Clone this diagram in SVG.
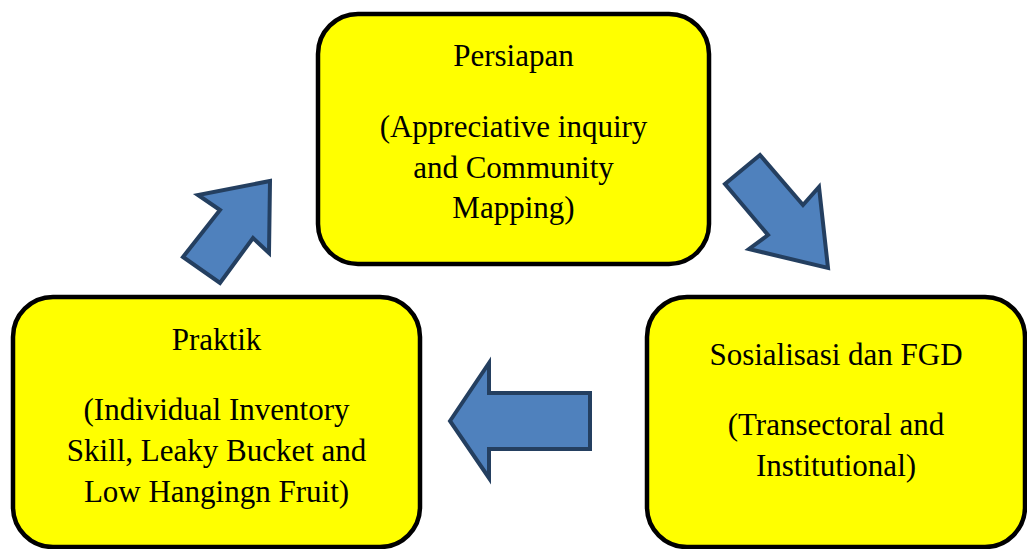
<svg xmlns="http://www.w3.org/2000/svg" width="1027" height="549" viewBox="0 0 1027 549">
<style>
.box{fill:#ffff00;stroke:#000;stroke-width:4.5}
.arr{fill:#4f81bd;stroke:#243f60;stroke-width:4;stroke-linejoin:miter}
.t{font-family:"Liberation Serif","Times New Roman",serif;font-size:31px;fill:#000;text-anchor:middle}
</style>
<rect width="1027" height="549" fill="#fff"/>
<g id="persiapan">
<rect class="box" x="318" y="14" width="391" height="250" rx="40"/>
<text class="t" x="513.5" y="66">Persiapan</text>
<text class="t" x="513.5" y="137">(Appreciative inquiry</text>
<text class="t" x="513.5" y="178">and Community</text>
<text class="t" x="513.5" y="218">Mapping)</text>
</g>
<g id="praktik">
<rect class="box" x="13" y="297" width="407" height="250" rx="40"/>
<text class="t" x="216.5" y="350">Praktik</text>
<text class="t" x="216.5" y="420">(Individual Inventory</text>
<text class="t" x="216.5" y="461">Skill, Leaky Bucket and</text>
<text class="t" x="216.5" y="502">Low Hangingn Fruit)</text>
</g>
<g id="sosialisasi">
<rect class="box" x="647" y="297" width="378" height="250" rx="40"/>
<text class="t" x="836" y="365">Sosialisasi dan FGD</text>
<text class="t" x="836" y="435">(Transectoral and</text>
<text class="t" x="836" y="476">Institutional)</text>
</g>
<g id="connectors">
<polygon class="arr" points="760,155 803,205 819,187 828,268 749,249 768,235 725,184"/>
<polygon class="arr" points="450,421 489,363 489,393 590,393 590,449 489,449 489,478"/>
<polygon class="arr" points="270,181 269,253 253,238 220,283 183,257 220,210 198,195"/>
</g>
</svg>
